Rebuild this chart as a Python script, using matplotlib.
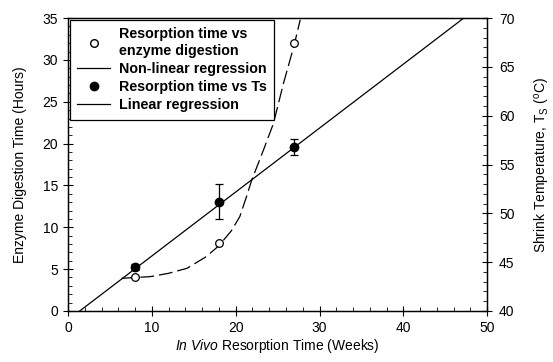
import matplotlib
matplotlib.use("Agg")
import matplotlib.pyplot as plt
from matplotlib.lines import Line2D
from matplotlib.ticker import MultipleLocator

plt.rcParams['font.family'] = ['Liberation Sans', 'DejaVu Sans']
plt.rcParams['mathtext.fontset'] = 'custom'
plt.rcParams['mathtext.rm'] = 'Liberation Sans'
plt.rcParams['mathtext.it'] = 'Liberation Sans:italic'

# resorption time vs enzyme digestion (left axis, hours)
enz_weeks = [8, 18, 27]
enz_hours = [4.0, 8.1, 32.0]

# non-linear regression curve
nl_weeks = [6.4, 8.0, 9.8, 12.0, 14.2, 16.5, 18.0, 19.5, 20.5, 21.3, 21.9, 23.3, 24.5, 25.7, 26.9, 27.7]
nl_hours = [3.9, 4.0, 4.1, 4.5, 5.1, 6.5, 7.8, 9.6, 11.3, 13.7, 15.6, 19.2, 22.4, 27.2, 31.5, 34.8]

# resorption time vs shrink temperature (right axis, deg C)
ts_weeks = [8, 18, 27]
ts_temp = [44.5, 51.2, 56.8]
ts_err = [0.3, 1.8, 0.8]

# linear regression end points
lin_weeks = [1.4, 47.2]
lin_temp = [40.0, 70.0]

fig = plt.figure(figsize=(5.53, 3.62), dpi=100)
ax = fig.add_axes([0.123, 0.141, 0.758, 0.809])
ax2 = ax.twinx()

ax.plot(nl_weeks, nl_hours, color='black', lw=0.9, dashes=(11, 4))
ax.plot(enz_weeks, enz_hours, 'o', mfc='white', mec='black', ms=5.5, mew=0.9)

ax2.plot(lin_weeks, lin_temp, color='black', lw=0.9)
ax2.errorbar(ts_weeks, ts_temp, yerr=ts_err, fmt='o', color='black', ms=6,
             elinewidth=0.9, capsize=3, capthick=0.9)

ax.set_xlim(0, 50)
ax.set_ylim(0, 35)
ax2.set_ylim(40, 70)
ax.xaxis.set_major_locator(MultipleLocator(10))
ax.xaxis.set_minor_locator(MultipleLocator(2))
ax.yaxis.set_major_locator(MultipleLocator(5))
ax.yaxis.set_minor_locator(MultipleLocator(1))
ax2.yaxis.set_major_locator(MultipleLocator(5))
ax2.yaxis.set_minor_locator(MultipleLocator(1))

for a in (ax, ax2):
    a.tick_params(which='major', direction='inout', length=7, width=0.8, labelsize=10)
    a.tick_params(which='minor', direction='in', length=3, width=0.6)
    for s in a.spines.values():
        s.set_linewidth(0.9)
ax2.tick_params(axis='y', which='major', pad=5)

ax.set_xlabel(r'$\mathit{In\ Vivo}$ Resorption Time (Weeks)', fontsize=10, labelpad=2)
ax.set_ylabel('Enzyme Digestion Time (Hours)', fontsize=10, labelpad=11)
ax2.set_ylabel(r'Shrink Temperature, T$_\mathrm{S}$ ($^\mathrm{o}$C)', fontsize=10, labelpad=13)

handles = [
    Line2D([], [], ls='none', marker='o', mfc='white', mec='black', ms=5.5),
    Line2D([], [], color='black', lw=0.9),
    Line2D([], [], ls='none', marker='o', color='black', ms=6),
    Line2D([], [], color='black', lw=0.9),
]
labels = ['Resorption time vs\nenzyme digestion', 'Non-linear regression',
          'Resorption time vs Ts', 'Linear regression']
leg = ax.legend(handles, labels, loc='upper left', borderaxespad=0.15,
                fancybox=False, edgecolor='black', framealpha=1,
                prop={'size': 10.3, 'weight': 'bold'}, handlelength=2.3,
                handletextpad=0.6, labelspacing=0.3, borderpad=0.5)
leg.get_frame().set_linewidth(0.9)

fig.savefig('out.png', dpi=100)
